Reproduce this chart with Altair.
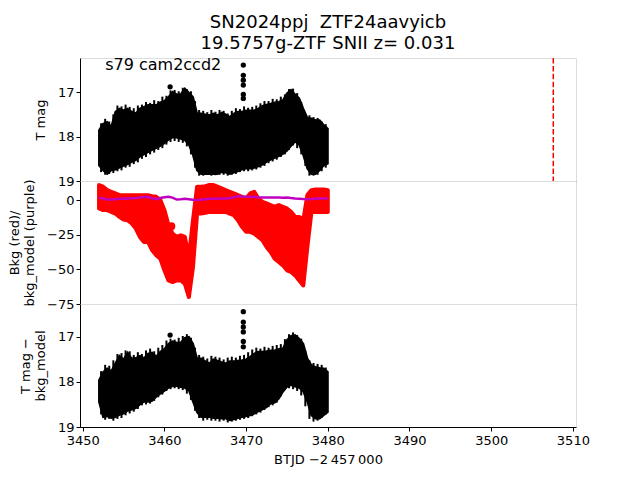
import altair as alt
import pandas as pd

# time grid (BTJD - 2457000)
X = [3452.0, 3452.5, 3453.0, 3453.5, 3454.0, 3454.5, 3455.0, 3455.5, 3456.0, 3456.5,
     3457.0, 3457.5, 3458.0, 3458.5, 3459.0, 3459.5, 3460.0, 3460.5, 3461.0, 3461.5,
     3462.0, 3462.5, 3463.0, 3463.5, 3464.0, 3464.5, 3465.0, 3465.5, 3466.0, 3466.5,
     3467.0, 3467.5, 3468.0, 3468.5, 3469.0, 3469.5, 3470.0, 3470.5, 3471.0, 3471.5,
     3472.0, 3472.5, 3473.0, 3473.5, 3474.0, 3474.5, 3475.0, 3475.5, 3476.0, 3476.5,
     3477.0, 3477.5, 3478.0, 3478.5, 3479.0, 3479.5, 3480.0]

# panel 1: T mag envelope (bright edge / faint edge)
T_TOP = [17.86, 17.71, 17.67, 17.78, 17.44, 17.37, 17.41, 17.37, 17.44, 17.48,
         17.37, 17.33, 17.29, 17.29, 17.29, 17.23, 17.20, 17.11, 16.99, 17.05,
         17.05, 16.92, 17.01, 17.11, 17.48, 17.48, 17.50, 17.52, 17.48, 17.52,
         17.46, 17.50, 17.56, 17.48, 17.44, 17.44, 17.41, 17.41, 17.41, 17.37,
         17.31, 17.28, 17.26, 17.23, 17.22, 17.18, 17.03, 16.95, 17.05, 17.14,
         17.37, 17.58, 17.59, 17.63, 17.63, 17.74, 17.82]
T_BOT = [18.65, 18.76, 18.84, 18.76, 18.74, 18.70, 18.66, 18.62, 18.57, 18.53,
         18.45, 18.40, 18.35, 18.30, 18.26, 18.21, 18.15, 18.07, 18.02, 18.02,
         18.05, 18.08, 18.18, 18.42, 18.76, 18.84, 18.84, 18.84, 18.84, 18.84,
         18.80, 18.81, 18.84, 18.81, 18.78, 18.74, 18.72, 18.72, 18.70, 18.67,
         18.63, 18.57, 18.52, 18.48, 18.44, 18.39, 18.32, 18.21, 18.11, 18.18,
         18.42, 18.72, 18.84, 18.84, 18.76, 18.65, 18.61]

# spiky error bars between the grid points
MID_X = [3452.25, 3452.75, 3453.25, 3453.75, 3454.25, 3454.75, 3455.25, 3455.75, 3456.25, 3456.75,
         3457.25, 3457.75, 3458.25, 3458.75, 3459.25, 3459.75, 3460.25, 3460.75, 3461.25, 3461.75,
         3462.25, 3462.75, 3463.25, 3463.75, 3464.25, 3464.75, 3465.25, 3465.75, 3466.25, 3466.75,
         3467.25, 3467.75, 3468.25, 3468.75, 3469.25, 3469.75, 3470.25, 3470.75, 3471.25, 3471.75,
         3472.25, 3472.75, 3473.25, 3473.75, 3474.25, 3474.75, 3475.25, 3475.75, 3476.25, 3476.75,
         3477.25, 3477.75, 3478.25, 3478.75, 3479.25, 3479.75]
SPK_T_TOP = [17.70, 17.60, 17.66, 17.50, 17.30, 17.32, 17.28, 17.33, 17.36, 17.30,
             17.28, 17.22, 17.24, 17.18, 17.20, 17.10, 17.08, 16.96, 16.95, 16.98,
             16.90, 16.93, 16.98, 17.20, 17.40, 17.42, 17.45, 17.40, 17.44, 17.40,
             17.42, 17.48, 17.42, 17.36, 17.38, 17.32, 17.35, 17.33, 17.30, 17.25,
             17.20, 17.20, 17.15, 17.16, 17.10, 17.05, 16.93, 16.92, 17.02, 17.22,
             17.50, 17.52, 17.56, 17.58, 17.66, 17.72]
SPK_T_BOT = [18.80, 18.86, 18.84, 18.82, 18.78, 18.76, 18.70, 18.68, 18.62, 18.58,
             18.50, 18.46, 18.40, 18.36, 18.30, 18.26, 18.18, 18.12, 18.10, 18.12,
             18.14, 18.22, 18.40, 18.70, 18.88, 18.88, 18.86, 18.88, 18.87, 18.86,
             18.86, 18.88, 18.86, 18.84, 18.80, 18.78, 18.78, 18.76, 18.74, 18.70,
             18.66, 18.60, 18.56, 18.52, 18.46, 18.40, 18.30, 18.20, 18.26, 18.40,
             18.66, 18.88, 18.88, 18.86, 18.78, 18.70]

# panel 2: background (red) envelope and bkg_model (purple)
BKG_TOP = [10.9, 9.7, 7.2, 6.0, 4.8, 3.6, 3.6, 3.6, 3.6, 3.6,
           3.6, 3.6, 3.6, 2.9, 2.4, 0.0, -7.2, -18.0, -24.2, -26.6,
           -25.4, -26.6, -41.1, -14.5, 9.7, 9.7, 10.1, 10.9, 10.9, 9.7,
           8.5, 7.2, 6.0, 4.8, 3.6, 2.4, 1.2, 4.8, 6.0, 1.2,
           -1.2, -2.4, -3.6, -4.8, -3.6, -4.8, -6.0, -8.5, -12.1, -12.1,
           -14.5, 3.6, 7.2, 7.6, 7.6, 7.6, 7.2]
BKG_BOT = [-6.0, -7.2, -7.2, -8.5, -9.7, -12.1, -14.0, -14.5, -16.9, -20.5,
           -26.6, -30.2, -30.2, -36.2, -39.8, -42.3, -50.7, -58.0, -59.2, -58.0,
           -58.0, -60.4, -70.0, -48.3, -9.7, -9.7, -9.2, -8.5, -8.5, -8.5,
           -8.5, -8.5, -9.7, -10.9, -14.5, -19.3, -22.9, -22.9, -24.2, -26.6,
           -29.0, -33.8, -37.4, -42.3, -44.7, -47.1, -50.7, -51.9, -54.3, -58.0,
           -61.6, -33.8, -8.5, -8.5, -8.5, -8.5, -8.5]
MODEL = [1.9, 1.2, 0.5, 0.5, 0.7, 0.9, 1.0, 1.2, 1.4, 1.6,
         1.9, 2.2, 2.4, 1.2, 0.7, 1.5, 2.0, 2.4, 1.8, 0.4,
         0.6, 1.0, 0.6, 0.2, 0.0, 0.3, 0.6, 0.9, 1.0, 1.0,
         1.1, 1.2, 1.4, 2.0, 2.9, 2.6, 2.4, 2.2, 2.4, 2.0,
         1.9, 1.9, 1.9, 1.8, 1.9, 1.7, 1.9, 1.5, 1.2, 1.0,
         0.8, 0.7, 0.8, 1.0, 1.1, 1.2, 1.2]

# panel 3: T mag - bkg_model envelope
D_TOP = [17.96, 17.78, 17.70, 17.76, 17.59, 17.42, 17.50, 17.35, 17.48, 17.47,
         17.42, 17.47, 17.37, 17.35, 17.44, 17.33, 17.27, 17.15, 17.10, 17.13,
         17.13, 17.02, 17.00, 17.15, 17.48, 17.48, 17.54, 17.59, 17.50, 17.53,
         17.56, 17.59, 17.54, 17.54, 17.53, 17.52, 17.50, 17.44, 17.37, 17.33,
         17.33, 17.32, 17.30, 17.30, 17.27, 17.26, 17.07, 16.98, 16.96, 17.04,
         17.15, 17.48, 17.63, 17.67, 17.69, 17.70, 17.78]
D_BOT = [18.44, 18.78, 18.76, 18.80, 18.78, 18.73, 18.70, 18.64, 18.61, 18.58,
         18.50, 18.44, 18.44, 18.42, 18.33, 18.26, 18.20, 18.13, 18.09, 18.09,
         18.11, 18.13, 18.19, 18.44, 18.67, 18.78, 18.78, 18.78, 18.80, 18.80,
         18.81, 18.81, 18.85, 18.83, 18.80, 18.78, 18.76, 18.74, 18.70, 18.65,
         18.61, 18.56, 18.48, 18.46, 18.37, 18.22, 18.11, 18.07, 18.10, 18.13,
         18.21, 18.44, 18.74, 18.81, 18.81, 18.74, 18.67]
SPK_D_TOP = [17.76, 17.62, 17.64, 17.52, 17.38, 17.36, 17.30, 17.32, 17.40, 17.34,
             17.38, 17.30, 17.26, 17.32, 17.24, 17.18, 17.08, 17.04, 17.06, 17.02,
             16.98, 16.94, 17.02, 17.24, 17.40, 17.44, 17.48, 17.42, 17.44, 17.46,
             17.50, 17.46, 17.44, 17.46, 17.42, 17.40, 17.34, 17.28, 17.24, 17.26,
             17.22, 17.24, 17.20, 17.18, 17.16, 17.05, 16.94, 16.90, 16.96, 17.04,
             17.30, 17.52, 17.58, 17.60, 17.62, 17.68]
SPK_D_BOT = [18.72, 18.84, 18.82, 18.86, 18.82, 18.80, 18.74, 18.70, 18.66, 18.60,
             18.52, 18.50, 18.48, 18.42, 18.34, 18.28, 18.20, 18.16, 18.14, 18.16,
             18.18, 18.26, 18.40, 18.64, 18.80, 18.86, 18.84, 18.86, 18.86, 18.88,
             18.86, 18.90, 18.88, 18.86, 18.84, 18.82, 18.80, 18.76, 18.72, 18.68,
             18.62, 18.56, 18.52, 18.46, 18.32, 18.18, 18.14, 18.16, 18.20, 18.30,
             18.54, 18.82, 18.88, 18.86, 18.80, 18.72]

# isolated points
OUT_X = [3460.7, 3469.66, 3469.66, 3469.66, 3469.66, 3469.66, 3469.66]
OUT_T = [16.88, 16.39, 16.62, 16.73, 16.84, 17.05, 17.14]
OUT_D = [16.96, 16.44, 16.67, 16.78, 16.89, 17.10, 17.22]
BKG_OUT_X = [3460.86]
BKG_OUT_Y = [-18.8]

SN_TIME = [3507.6]
LABEL = "s79 cam2ccd2"

FONT = "DejaVu Sans"
W, H = 496, 123
xscale = alt.Scale(domain=[3449.67, 3510.38], nice=False, zero=False)

env = pd.DataFrame({"x": X, "t_top": T_TOP, "t_bot": T_BOT, "b_top": BKG_TOP,
                    "b_bot": BKG_BOT, "model": MODEL, "d_top": D_TOP, "d_bot": D_BOT})
spk = pd.DataFrame({"x": MID_X, "t_top": SPK_T_TOP, "t_bot": SPK_T_BOT,
                    "d_top": SPK_D_TOP, "d_bot": SPK_D_BOT})
out = pd.DataFrame({"x": OUT_X, "t": OUT_T, "d": OUT_D})
bout = pd.DataFrame({"x": BKG_OUT_X, "y": BKG_OUT_Y})

yaxis_common = dict(labelFontSize=13, titleFontSize=13, titleFontWeight="normal",
                    titleColor="black", labelColor="black", tickColor="black",
                    domainColor="black", tickSize=4, titlePadding=10, grid=False,
                    labelFont=FONT, titleFont=FONT)
bare_x = alt.Axis(labels=False, ticks=False, title=None, domainColor="black", grid=False)


def X_():
    return alt.X("x:Q", scale=xscale)


# ---- panel 1
s1 = alt.Scale(domain=[16.23, 19.0], reverse=True, nice=False, zero=False)
p1_area = alt.Chart(env).mark_area(color="black", stroke="black", strokeWidth=2, clip=True).encode(
    x=alt.X("x:Q", scale=xscale, axis=bare_x),
    y=alt.Y("t_top:Q", scale=s1, axis=alt.Axis(values=[17, 18, 19], format="d",
                                               title="T mag", **yaxis_common)),
    y2="t_bot:Q",
)
p1_spk = alt.Chart(spk).mark_rule(color="black", strokeWidth=2, clip=True).encode(
    x=X_(), y=alt.Y("t_top:Q", scale=s1), y2="t_bot:Q")
p1_pts = alt.Chart(out).mark_circle(color="black", size=28, opacity=1).encode(
    x=X_(), y=alt.Y("t:Q", scale=s1))
p1_rule = alt.Chart(pd.DataFrame({"x": SN_TIME})).mark_rule(
    color="red", strokeDash=[5.5, 2.4], strokeWidth=1.5).encode(x=X_())
p1_text = alt.Chart(pd.DataFrame({"x": [3452.75], "y": [16.50], "t": [LABEL]})).mark_text(
    align="left", baseline="alphabetic", fontSize=16, font=FONT, color="black").encode(
    x=X_(), y=alt.Y("y:Q", scale=s1), text="t:N")
panel1 = alt.layer(p1_area, p1_spk, p1_pts, p1_rule, p1_text).properties(
    width=W, height=H,
    title=alt.TitleParams(["SN2024ppj\u00a0 ZTF24aavyicb", "19.5757g-ZTF SNII z= 0.031"],
                          fontSize=18, fontWeight="normal", font=FONT, color="black",
                          anchor="middle", offset=4, lineHeight=21))

# ---- panel 2
s2 = alt.Scale(domain=[-75, 13.8], nice=False, zero=False)
p2_area = alt.Chart(env).mark_area(color="red", stroke="red", strokeWidth=4,
                                   strokeJoin="round", clip=True).encode(
    x=alt.X("x:Q", scale=xscale, axis=bare_x),
    y=alt.Y("b_top:Q", scale=s2, axis=alt.Axis(values=[0, -25, -50, -75],
                                               title=["Bkg (red)/", "bkg_model (purple)"],
                                               **yaxis_common)),
    y2="b_bot:Q",
)
p2_pt = alt.Chart(bout).mark_circle(color="red", size=60, opacity=1).encode(
    x=X_(), y=alt.Y("y:Q", scale=s2))
p2_line = alt.Chart(env).mark_line(color="#bf00bf", strokeWidth=2.5).encode(
    x=X_(), y=alt.Y("model:Q", scale=s2))
panel2 = alt.layer(p2_area, p2_pt, p2_line).properties(width=W, height=H)

# ---- panel 3
s3 = alt.Scale(domain=[16.27, 19.0], reverse=True, nice=False, zero=False)
p3_area = alt.Chart(env).mark_area(color="black", stroke="black", strokeWidth=2, clip=True).encode(
    x=alt.X("x:Q", scale=xscale,
            axis=alt.Axis(values=[3450, 3460, 3470, 3480, 3490, 3500, 3510], format="d",
                          title="BTJD \u22122\u2009457\u2009000", labelFontSize=13,
                          titleFontSize=13, titleFontWeight="normal", titleColor="black",
                          labelColor="black", tickColor="black", domainColor="black",
                          tickSize=4, labelPadding=3, titlePadding=6, grid=False,
                          labelFont=FONT, titleFont=FONT)),
    y=alt.Y("d_top:Q", scale=s3, axis=alt.Axis(values=[17, 18, 19], format="d",
                                               title=["T mag \u2212", "bkg_model"],
                                               **yaxis_common)),
    y2="d_bot:Q",
)
p3_spk = alt.Chart(spk).mark_rule(color="black", strokeWidth=2, clip=True).encode(
    x=X_(), y=alt.Y("d_top:Q", scale=s3), y2="d_bot:Q")
p3_pts = alt.Chart(out).mark_circle(color="black", size=28, opacity=1).encode(
    x=X_(), y=alt.Y("d:Q", scale=s3))
panel3 = alt.layer(p3_area, p3_spk, p3_pts).properties(width=W, height=H)

chart = alt.vconcat(panel1, panel2, panel3, spacing=0, bounds="flush").resolve_scale(
    y="independent").properties(
    padding={"left": 0, "top": 5, "right": 5, "bottom": 5}
).configure_view(stroke="black", strokeWidth=1).configure(font=FONT)

chart.save("out.html", embed_options={"renderer": "svg", "actions": False})
